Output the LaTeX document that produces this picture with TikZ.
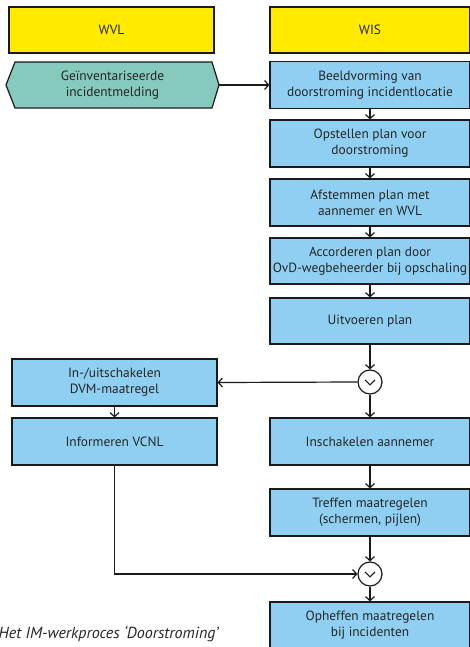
\documentclass[tikz,border=0pt]{standalone}
\usepackage{fontspec}
\setmainfont{PT Sans}
\usetikzlibrary{arrows.meta}
\definecolor{wyellow}{HTML}{FFEA00}
\definecolor{wblue}{HTML}{8FD0F2}
\definecolor{wteal}{HTML}{86C9BD}
\definecolor{wline}{HTML}{1A1A1A}
\begin{document}
\begin{tikzpicture}[x=1pt,y=-1pt,
  every node/.style={font=\fontsize{13.4}{16}\selectfont, text=black!85},
  lane/.style={draw=wline, line width=1.2pt, fill=wyellow, minimum height=46pt, inner sep=0pt},
  pbox/.style={draw=wline, line width=1.2pt, fill=wblue, minimum height=47pt, inner sep=0pt, align=center},
  rbox/.style={pbox, minimum width=200pt},
  lbox/.style={pbox, minimum width=205pt},
  gate/.style={circle, draw=wline, line width=1.2pt, fill=white, minimum size=24pt, inner sep=0pt},
  flow/.style={draw=wline, line width=1.2pt, -{Straight Barb[length=4pt,width=9pt,line width=1.2pt]}}
]
\useasboundingbox (0,0) rectangle (470,647);

% swimlane headers
\node[lane, minimum width=205pt] (wvl) at (111.5,30) {WVL};
\node[lane, minimum width=200pt] (wis) at (370,30) {WIS};

% hexagon start event
\filldraw[draw=wline, line width=1.2pt, fill=wteal]
  (6,85) -- (15,62) -- (212,62) -- (219,85) -- (212,108) -- (15,108) -- cycle;
\node[align=center, minimum width=213pt, minimum height=46pt, inner sep=0pt] (hex) at (112.5,85)
  {Geïnventariseerde\\incidentmelding};

% right column
\node[rbox] (b1) at (370,85) {Beeldvorming van\\doorstroming incidentlocatie};
\node[rbox] (b2) at (370,143.5) {Opstellen plan voor\\doorstroming};
\node[rbox] (b3) at (370,202.5) {Afstemmen plan met\\aannemer en WVL};
\node[rbox, minimum height=46pt] (b4) at (370,261) {Accorderen plan door\\OvD-wegbeheerder bij opschaling};
\node[rbox, minimum height=46pt] (b5) at (370,321) {Uitvoeren plan};
\node[gate] (g1) at (370,382) {};
\node[rbox] (b8) at (370,441.5) {Inschakelen aannemer};
\node[rbox] (b9) at (370,512.5) {Treffen maatregelen\\(schermen, pijlen)};
\node[gate] (g2) at (370,574) {};
\node[rbox] (b10) at (370,625.5) {Opheffen maatregelen\\bij incidenten};

% left column
\node[lbox] (b6) at (114.5,382.5) {In-/uitschakelen\\DVM-maatregel};
\node[lbox] (b7) at (114.5,441.5) {Informeren VCNL};

% gateway chevrons
\foreach \g in {g1,g2}
  \draw[wline, line width=1.1pt] ([shift={(-5,-2)}]\g.center) -- ([shift={(0,2.8)}]\g.center) -- ([shift={(5,-2)}]\g.center);

% connectors
\draw[flow] (hex.east) -- (b1.west);
\draw[flow] (b1.south) -- (b2.north);
\draw[flow] (b2.south) -- (b3.north);
\draw[flow] (b3.south) -- (b4.north);
\draw[flow] (b4.south) -- (b5.north);
\draw[flow] (b5.south) -- (g1.north);
\draw[flow] (g1.west) -- (b6.east);
\draw[flow] (g1.south) -- (b8.north);
\draw[flow] (b6.south) -- (b7.north);
\draw[flow] (b8.south) -- (b9.north);
\draw[flow] (b9.south) -- (g2.north);
\draw[flow] (b7.south) |- (g2.west);
\draw[flow] (g2.south) -- (b10.north);

% caption
\node[anchor=base west, inner sep=0pt, font=\fontsize{16}{18}\itshape] (cap) at (-1.5,638) {Het IM-werkproces ‘Doorstroming’};
\end{tikzpicture}
\end{document}
